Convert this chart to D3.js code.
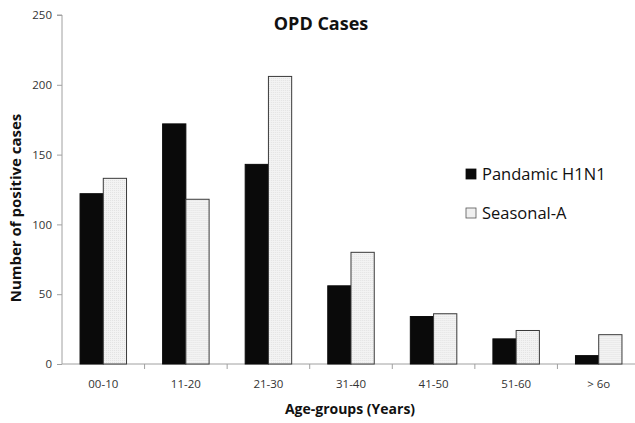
<!DOCTYPE html>
<html><head><meta charset="utf-8">
<script src="https://cdn.jsdelivr.net/npm/d3@7/dist/d3.min.js"></script>
<style>body{margin:0;background:#fff}svg{display:block}</style>
</head><body>
<svg id="c" width="635" height="423"></svg>
<script>
const categories = ["00-10","11-20","21-30","31-40","41-50","51-60","> 6o"];
const seriesNames = ["Pandamic H1N1","Seasonal-A"];
const h1n1 = [122,172,143,56,34,18,6];
const seasonalA = [133,118,206,80,36,24,21];
const yTicks = [0,50,100,150,200,250];

const svg = d3.select("#c");
const font = "'Open Sans', 'DejaVu Sans', sans-serif";
const x0 = d3.scaleBand().domain(categories).range([62, 640]).paddingInner(0.437).paddingOuter(0.2185);
const x1 = d3.scaleBand().domain(seriesNames).range([0, x0.bandwidth()]);
const y = d3.scaleLinear().domain([0,250]).range([364, 15]);

const defs = svg.append("defs");
const pat = defs.append("pattern").attr("id","dots").attr("width",2).attr("height",2).attr("patternUnits","userSpaceOnUse");
pat.append("rect").attr("width",2).attr("height",2).attr("fill","#f3f3f3");
pat.append("rect").attr("width",1).attr("height",1).attr("fill","#e2e2e2");

// y axis
const yAxis = svg.append("g").attr("transform","translate(62,0)")
  .call(d3.axisLeft(y).tickValues(yTicks).tickSize(5).tickPadding(5));
yAxis.select(".domain").attr("stroke","#a0a0a0").attr("d","M-5,"+y(250)+"H0V"+y(0));
yAxis.selectAll(".tick line").attr("stroke","#a0a0a0");
yAxis.selectAll(".tick text").attr("font-family",font).attr("font-size",11.5).attr("fill","#333");

// x axis
const xAxis = svg.append("g").attr("transform","translate(0,364)")
  .call(d3.axisBottom(x0).tickSize(0).tickPadding(16));
xAxis.select(".domain").attr("stroke","#a0a0a0").attr("d","M62,0H640");
xAxis.selectAll(".tick text").attr("font-family",font).attr("font-size",11.5).attr("fill","#333");
const step = x0.step();
svg.append("g").selectAll("line").data(categories.slice(1)).join("line")
  .attr("x1", d => x0(d) - x0.paddingInner()*step/2)
  .attr("x2", d => x0(d) - x0.paddingInner()*step/2)
  .attr("y1",364).attr("y2",369).attr("stroke","#a0a0a0");

// bars
const data = categories.map((c,i)=>({c, vals:[h1n1[i], seasonalA[i]]}));
const g = svg.append("g").selectAll("g").data(data).join("g")
  .attr("transform", d => `translate(${x0(d.c)},0)`);
g.selectAll("rect").data(d => d.vals.map((v,j)=>({s:seriesNames[j], v}))).join("rect")
  .attr("x", d => x1(d.s)).attr("width", x1.bandwidth())
  .attr("y", d => y(d.v)).attr("height", d => y(0)-y(d.v))
  .attr("fill", d => d.s===seriesNames[0] ? "#0a0a0a" : "url(#dots)")
  .attr("stroke", d => d.s===seriesNames[0] ? "#0a0a0a" : "#3a3a3a")
  .attr("stroke-width", 1);

// title
svg.append("text").attr("x",321).attr("y",30).attr("text-anchor","middle")
  .attr("font-family",font).attr("font-weight","bold").attr("font-size",18).attr("fill","#111").text("OPD Cases");

// axis titles
svg.append("text").attr("x",350).attr("y",414).attr("text-anchor","middle")
  .attr("font-family",font).attr("font-weight","bold").attr("font-size",14).attr("fill","#111").text("Age-groups (Years)");
svg.append("text").attr("transform","translate(21,208) rotate(-90)").attr("text-anchor","middle")
  .attr("font-family",font).attr("font-weight","bold").attr("font-size",15).attr("fill","#111").text("Number of positive cases");

// legend
const leg = svg.append("g").selectAll("g").data(seriesNames).join("g")
  .attr("transform",(d,i)=>`translate(466,${169 + i*39})`);
leg.append("rect").attr("width",10).attr("height",10)
  .attr("fill",(d,i)=> i===0 ? "#0a0a0a" : "#f0f0f0")
  .attr("stroke",(d,i)=> i===0 ? "#0a0a0a" : "#555").attr("stroke-width",0.8);
leg.append("text").attr("x",16).attr("y",11).attr("font-family",font).attr("font-size",16.5).attr("fill","#111").text(d=>d);
</script>
</body></html>
